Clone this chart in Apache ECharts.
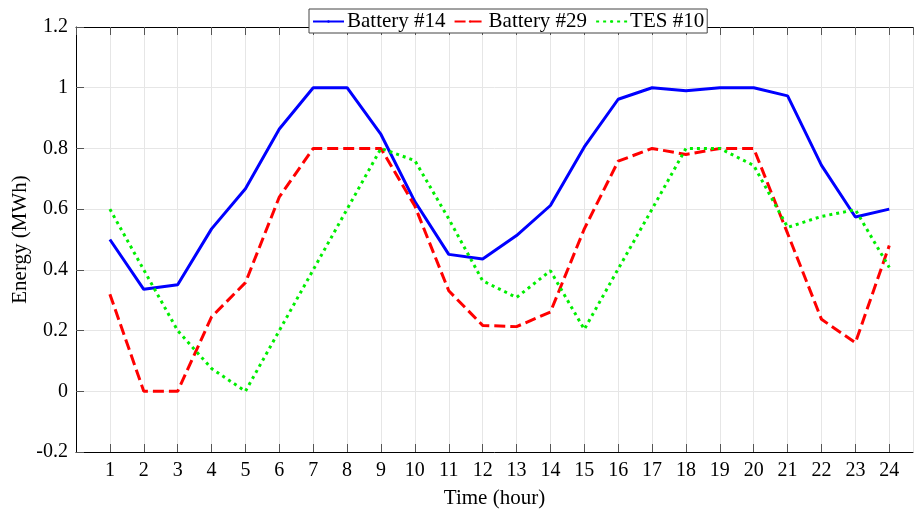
<!DOCTYPE html>
<html>
<head>
<meta charset="utf-8">
<script src="https://cdn.jsdelivr.net/npm/echarts@6/dist/echarts.min.js"></script>
<style>
	html,body{margin:0;padding:0;background:#fff;}
	#chart{width:914px;height:511px;}
</style>
</head>
<body>
<div id="chart"></div>
<script>
	// hours 1..24
	var hours = [1,2,3,4,5,6,7,8,9,10,11,12,13,14,15,16,17,18,19,20,21,22,23,24];
	var battery14 = [0.50,0.336,0.351,0.535,0.667,0.864,1.0,1.0,0.846,0.625,0.451,0.436,0.513,0.612,0.805,0.962,1.0,0.99,1.0,1.0,0.973,0.744,0.574,0.60];
	var battery29 = [0.32,0,0,0.245,0.358,0.64,0.8,0.8,0.8,0.61,0.331,0.217,0.213,0.261,0.535,0.758,0.8,0.78,0.8,0.8,0.52,0.237,0.16,0.48];
	var tes10 = [0.60,0.40,0.20,0.075,0,0.20,0.40,0.60,0.80,0.76,0.568,0.364,0.309,0.397,0.204,0.403,0.60,0.80,0.80,0.744,0.54,0.576,0.598,0.408];

	function pairs(arr){
		var out = [];
		for(var i=0;i<hours.length;i++){ out.push([hours[i], arr[i]]); }
		return out;
	}

	var font = 'Liberation Serif';
	var chart = echarts.init(document.getElementById('chart'));
	var option = {
		animation:false,
		grid:{left:76,right:1,top:27,bottom:59,containLabel:false,outerBoundsMode:'none'},
		legend:{
			top:9,
			left:309,
			itemWidth:31,
			itemHeight:3,
			itemGap:8,
			padding:[1,3,0,3],
			backgroundColor:'#fff',
			borderColor:'#444',
			borderWidth:1,
			borderRadius:0,
			textStyle:{fontFamily:font,fontSize:21,color:'#000',padding:[0,0,0,-2],lineHeight:23},
			data:['Battery #14','Battery #29','TES #10']
		},
		xAxis:[{
			type:'value',
			min:0,max:24.7,interval:1,
			name:'Time (hour)',
			nameLocation:'middle',
			nameGap:36,
			nameTextStyle:{fontFamily:font,fontSize:21,color:'#000'},
			axisLine:{show:true,onZero:false,lineStyle:{color:'#000',width:1}},
			axisTick:{show:true,inside:true,length:8,lineStyle:{color:'#555'}},
			axisLabel:{fontFamily:font,fontSize:20,color:'#000',margin:9,showMinLabel:false,showMaxLabel:false,
				formatter:function(v){ return (v===0||v>24)?'':String(v); }},
			splitLine:{show:true,lineStyle:{color:'#e6e6e6',width:1}}
		},{
			type:'value',
			position:'top',
			min:0,max:24.7,interval:1,
			axisLine:{show:true,onZero:false,lineStyle:{color:'#000',width:1}},
			axisTick:{show:true,inside:true,length:8,lineStyle:{color:'#555'}},
			axisLabel:{show:false},
			splitLine:{show:false}
		}],
		yAxis:{
			type:'value',
			min:-0.2,max:1.2,interval:0.2,
			name:'Energy (MWh)',
			nameLocation:'middle',
			nameGap:45,
			nameMoveOverlap:false,
			nameTextStyle:{fontFamily:font,fontSize:21,color:'#000'},
			axisLine:{show:true,onZero:false,lineStyle:{color:'#000',width:1}},
			axisTick:{show:true,inside:true,length:8,lineStyle:{color:'#555'}},
			axisLabel:{fontFamily:font,fontSize:20,color:'#000',margin:8,
				formatter:function(v){ return String(Math.round(v*10)/10); }},
			splitLine:{show:true,lineStyle:{color:'#e6e6e6',width:1}}
		},
		series:[
			{
				name:'Battery #14',type:'line',symbol:'none',
				data:pairs(battery14),
				lineStyle:{color:'#0000ff',width:3,type:'solid'},
				itemStyle:{color:'#0000ff'},
				z:3
			},
			{
				name:'Battery #29',type:'line',symbol:'none',
				data:pairs(battery29),
				lineStyle:{color:'#ff0000',width:3,type:[11,5]},
				itemStyle:{color:'#ff0000'},
				z:4
			},
			{
				name:'TES #10',type:'line',symbol:'none',
				data:pairs(tes10),
				lineStyle:{color:'#00ee00',width:3,type:[3,4]},
				itemStyle:{color:'#00ee00'},
				z:5
			}
		]
	};
	chart.setOption(option);
</script>
</body>
</html>
